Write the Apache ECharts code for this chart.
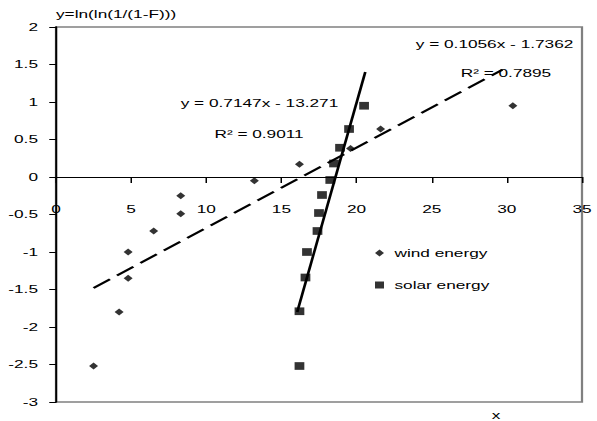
<!DOCTYPE html>
<html>
<head>
<meta charset="UTF-8">
<title>Weibull plot</title>
<style>
  html, body { margin: 0; padding: 0; background: #fff; overflow: hidden; }
  /* the original picture is stretched sideways, so draw narrow and scale x by 1.5 */
  #main { width: 398px; height: 421px; transform: scaleX(1.5); transform-origin: 0 0; }
</style>
</head>
<body>
<div id="main"></div>
<script src="https://cdn.jsdelivr.net/npm/echarts@6/dist/echarts.min.js"></script>
<script>
// data
var windX = [2.5, 4.2, 4.8, 4.8, 6.5, 8.3, 8.3, 13.2, 16.2, 19.6, 21.6, 30.4];
var windY = [-2.52, -1.80, -1.35, -1.00, -0.72, -0.49, -0.25, -0.05, 0.17, 0.38, 0.64, 0.95];
var solarX = [16.2, 16.2, 16.6, 16.7, 17.4, 17.5, 17.7, 18.25, 18.5, 18.9, 19.5, 20.5];
var solarY = [-2.52, -1.79, -1.34, -1.00, -0.72, -0.48, -0.24, -0.04, 0.18, 0.39, 0.64, 0.95];
// trend line end points (as drawn)
var windTrendX = [2.5, 29.7];
var windTrendY = [-1.48, 1.43];
var solarTrendX = [16.05, 20.58];
var solarTrendY = [-1.8, 1.40];
var seriesNames = ['wind energy', 'solar energy'];
var windEq = ['y = 0.1056x - 1.7362', 'R\u00b2 = 0.7895'];
var solarEq = ['y = 0.7147x - 13.271', 'R\u00b2 = 0.9011'];

function pairs(xs, ys) {
    var out = [];
    for (var i = 0; i < xs.length; i++) out.push([xs[i], ys[i]]);
    return out;
}

var font = 'Liberation Sans, Arial, sans-serif';
var fs = 11.5;

var myChart = echarts.init(document.getElementById('main'), null, { renderer: 'svg' });

var option = {
    animation: false,
    textStyle: { fontFamily: font, fontSize: fs, color: '#000' },
    grid: {
        left: 37.33, right: 10, top: 27, bottom: 19,
        outerBoundsMode: 'none', containLabel: false,
        show: true, borderColor: '#808080', borderWidth: 1.5, backgroundColor: '#fff'
    },
    xAxis: {
        type: 'value', min: 0, max: 35, interval: 5,
        position: 'bottom',
        // y range is -3..2 over 375px, so y=0 sits 225px above the bottom edge
        offset: -225,
        axisLine: { onZero: false, lineStyle: { color: '#000', width: 1 } },
        axisTick: { show: true, length: 6, lineStyle: { color: '#000' } },
        axisLabel: { margin: 26, color: '#000', fontFamily: font, fontSize: fs, showMaxLabel: true, showMinLabel: true },
        splitLine: { show: false }
    },
    yAxis: {
        type: 'value', min: -3, max: 2, interval: 0.5,
        name: 'y=ln(ln(1/(1-F)))', nameLocation: 'end', nameGap: 7,
        nameTextStyle: { align: 'left', color: '#000', fontFamily: font, fontSize: fs },
        axisLine: { onZero: false, lineStyle: { color: '#000', width: 1.3 } },
        axisTick: { show: true, length: 4.5, lineStyle: { color: '#000' } },
        axisLabel: { margin: 12, color: '#000', fontFamily: font, fontSize: fs },
        splitLine: { show: false }
    },
    legend: {
        orient: 'vertical', left: 250, top: 247, padding: 0,
        itemWidth: 6, itemHeight: 7, itemGap: 20,
        textStyle: { fontFamily: font, fontSize: fs, color: '#000', padding: [0, 0, 0, 2] },
        data: [
            { name: seriesNames[0], icon: 'diamond' },
            { name: seriesNames[1], icon: 'rect' }
        ]
    },
    graphic: [
        { type: 'text', x: 329.7, y: 44, style: { text: windEq[0], align: 'center', verticalAlign: 'middle', font: fs + 'px ' + font, fill: '#000' } },
        { type: 'text', x: 337.3, y: 73, style: { text: windEq[1], align: 'center', verticalAlign: 'middle', font: fs + 'px ' + font, fill: '#000' } },
        { type: 'text', x: 173, y: 103, style: { text: solarEq[0], align: 'center', verticalAlign: 'middle', font: fs + 'px ' + font, fill: '#000' } },
        { type: 'text', x: 172.7, y: 134, style: { text: solarEq[1], align: 'center', verticalAlign: 'middle', font: fs + 'px ' + font, fill: '#000' } },
        { type: 'text', x: 330.7, y: 415, style: { text: 'x', align: 'center', verticalAlign: 'middle', font: fs + 'px ' + font, fill: '#000' } }
    ],
    series: [
        {
            name: seriesNames[0], type: 'scatter', symbol: 'diamond', symbolSize: [6, 7],
            itemStyle: { color: '#000' }, data: pairs(windX, windY)
        },
        {
            name: seriesNames[1], type: 'scatter', symbol: 'rect', symbolSize: [6.5, 7.7],
            itemStyle: { color: '#000' }, data: pairs(solarX, solarY)
        },
        {
            name: 'wind trend', type: 'line', symbol: 'none', silent: true,
            lineStyle: { color: '#000', width: 2, type: [14, 6] },
            data: pairs(windTrendX, windTrendY)
        },
        {
            name: 'solar trend', type: 'line', symbol: 'none', silent: true,
            lineStyle: { color: '#000', width: 1.8 },
            data: pairs(solarTrendX, solarTrendY)
        }
    ]
};

myChart.setOption(option);
</script>
</body>
</html>
